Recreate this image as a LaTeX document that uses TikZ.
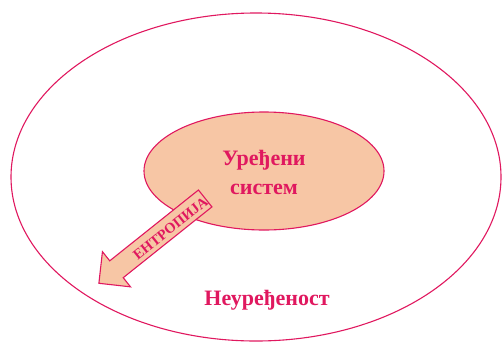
\documentclass[tikz,border=0pt]{standalone}
\usepackage{fontspec}
\setmainfont{Liberation Serif}
\usetikzlibrary{shapes.geometric,shapes.arrows}
\definecolor{crim}{HTML}{E0185F}
\definecolor{peach}{HTML}{F7C6A5}
\tikzset{
  bigell/.style={ellipse, draw=crim, line width=1.1pt, inner sep=0pt},
  lbl/.style={text=crim, font=\bfseries\fontsize{22}{29}\selectfont, align=center},
  entarrow/.style={single arrow, draw=crim, fill=peach, line width=1.1pt,
    inner sep=0pt, text height=20.5pt, text depth=0pt, text width=0pt,
    minimum height=136pt, single arrow head extend=11.7pt,
    shape border rotate=180},
  arrlbl/.style={text=crim, font=\bfseries\fontsize{14.5}{15}\selectfont, inner sep=0pt}
}
\begin{document}
\begin{tikzpicture}[x=1pt,y=-1pt]
\useasboundingbox (0,0) rectangle (502,343);
\node[bigell, minimum width=490pt, minimum height=328pt] (outer) at (256,177) {};
\node[bigell, fill=peach, minimum width=240pt, minimum height=118pt] (inner) at (264,171) {};
\node[lbl] (sys) at (264,172) {Уређени\\систем};
\node[entarrow, rotate=38.6] (arr) at (156.25,237.5) {};
\node[arrlbl, rotate=38.6] (ent) at (170.5,228.5) {ЕНТРОПИЈА};
\node[lbl] (dis) at (267,300) {Неуређеност};
\end{tikzpicture}
\end{document}
